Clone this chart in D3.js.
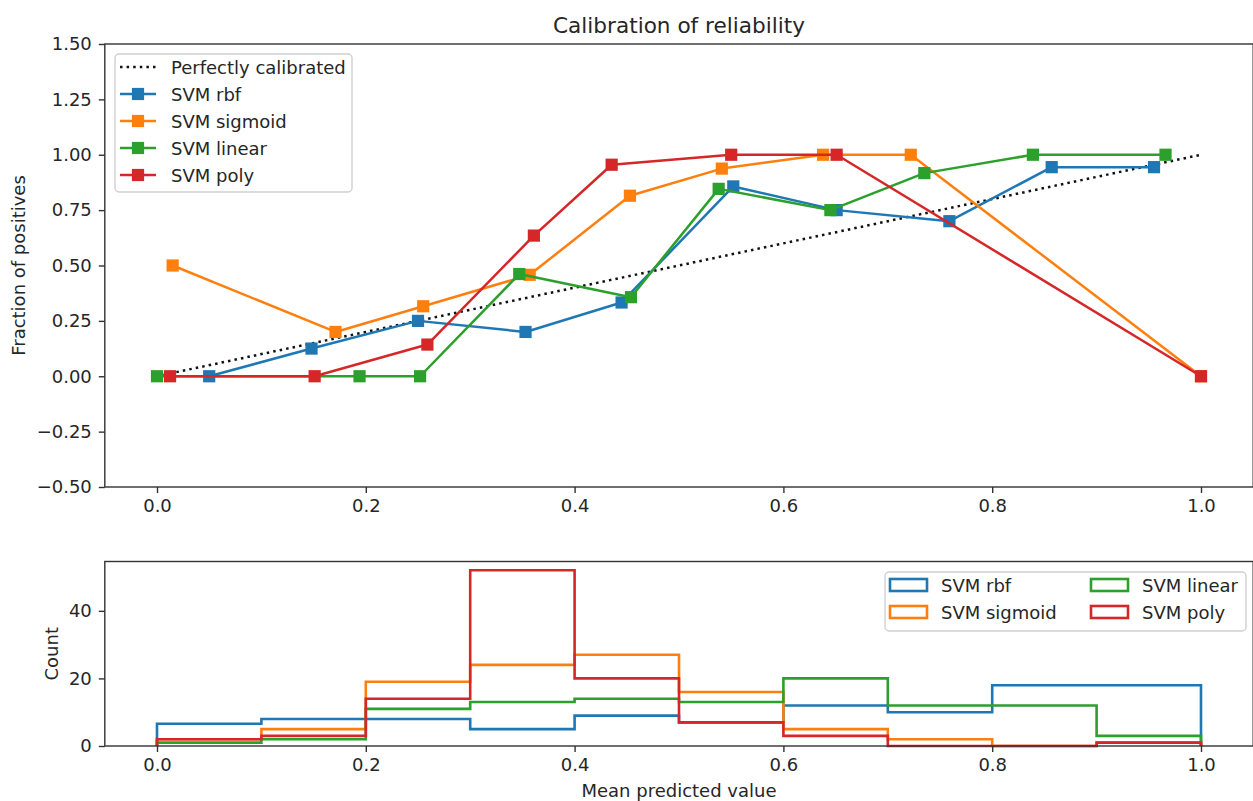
<!DOCTYPE html>
<html>
<head>
<meta charset="utf-8">
<script src="https://cdn.jsdelivr.net/npm/d3@7"></script>
<style>
  html, body { margin: 0; padding: 0; background: #fff; }
  svg { display: block; font-family: "DejaVu Sans", sans-serif; }
</style>
</head>
<body>
<svg id="chart" width="1253" height="801"></svg>
<script>
// ---------------- DATA ----------------
const seriesNames = ["SVM rbf", "SVM sigmoid", "SVM linear", "SVM poly"];
const seriesColors = ["#1f77b4", "#ff7f0e", "#2ca02c", "#d62728"];

// calibration curves: mean predicted value (x) and fraction of positives (y)
const rbfX = [0.05, 0.148, 0.25, 0.353, 0.445, 0.552, 0.651, 0.759, 0.857, 0.955];
const rbfY = [0.0, 0.125, 0.25, 0.2, 0.333, 0.857, 0.75, 0.70, 0.944, 0.944];
const sigmoidX = [0.015, 0.171, 0.255, 0.357, 0.453, 0.541, 0.638, 0.722, 1.0];
const sigmoidY = [0.5, 0.2, 0.316, 0.458, 0.815, 0.9375, 1.0, 1.0, 0.0];
const linearX = [0.0, 0.194, 0.252, 0.347, 0.454, 0.538, 0.645, 0.735, 0.839, 0.966];
const linearY = [0.0, 0.0, 0.0, 0.4615, 0.357, 0.846, 0.75, 0.917, 1.0, 1.0];
const polyX = [0.0125, 0.151, 0.259, 0.361, 0.4355, 0.55, 0.651, 1.0];
const polyY = [0.0, 0.0, 0.143, 0.635, 0.955, 1.0, 1.0, 0.0];

// histogram of predicted values (10 bins from 0 to 1)
const binEdges = [0.0, 0.1, 0.2, 0.3, 0.4, 0.5, 0.6, 0.7, 0.8, 0.9, 1.0];
const rbfCounts = [6.6, 8, 8, 5, 9, 7, 12, 10, 18, 18];
const sigmoidCounts = [2, 5, 19, 24, 27, 16, 5, 2, 0, 1];
const linearCounts = [1, 2, 11, 13, 14, 13, 20, 12, 12, 3];
const polyCounts = [2, 3, 14, 52, 20, 7, 3, 0, 0, 1];

const xTicks = [0.0, 0.2, 0.4, 0.6, 0.8, 1.0];
const yTicksTop = [-0.5, -0.25, 0.0, 0.25, 0.5, 0.75, 1.0, 1.25, 1.5];
const yTicksBottom = [0, 20, 40];

const titleText = "Calibration of reliability";
const topYLabel = "Fraction of positives";
const bottomYLabel = "Count";
const bottomXLabel = "Mean predicted value";
const perfectLabel = "Perfectly calibrated";

// ---------------- DRAWING ----------------
const svg = d3.select("#chart");
const textColor = "#262626";
const spineColor = "#333";
const FONT = 18;

const x = d3.scaleLinear().domain([-0.05, 1.05]).range([104.8, 1253.2]);
const yTop = d3.scaleLinear().domain([-0.5, 1.5]).range([487, 44]);
const yBot = d3.scaleLinear().domain([0, 54.6]).range([746, 561.5]);

function frame(g, yScale) {
  const [x0, x1] = x.range();
  const [y0, y1] = yScale.range();
  g.append("rect")
    .attr("x", x0).attr("y", y1)
    .attr("width", x1 - x0).attr("height", y0 - y1)
    .attr("fill", "none").attr("stroke", spineColor).attr("stroke-width", 1.4);
}

function axes(g, yScale, yTicks, yFmt) {
  const xa = g.append("g").attr("transform", `translate(0,${yScale.range()[0]})`)
    .call(d3.axisBottom(x).tickValues(xTicks).tickFormat(d3.format(".1f")).tickSize(6).tickPadding(6));
  const ya = g.append("g").attr("transform", `translate(${x.range()[0]},0)`)
    .call(d3.axisLeft(yScale).tickValues(yTicks).tickFormat(yFmt).tickSize(6).tickPadding(7));
  [xa, ya].forEach(a => {
    a.select(".domain").remove();
    a.selectAll(".tick line").attr("stroke", spineColor).attr("stroke-width", 1.4);
    a.selectAll(".tick text").attr("fill", textColor).style("font-size", FONT + "px")
      .style("font-family", "DejaVu Sans");
  });
}

// ---- top panel ----
const topG = svg.append("g");
const curves = [
  { name: seriesNames[0], color: seriesColors[0], xs: rbfX, ys: rbfY },
  { name: seriesNames[1], color: seriesColors[1], xs: sigmoidX, ys: sigmoidY },
  { name: seriesNames[2], color: seriesColors[2], xs: linearX, ys: linearY },
  { name: seriesNames[3], color: seriesColors[3], xs: polyX, ys: polyY }
];

const line = d3.line().x(d => x(d[0])).y(d => yTop(d[1]));

// perfectly calibrated
topG.append("path")
  .attr("d", line([[0, 0], [1, 1]]))
  .attr("fill", "none").attr("stroke", "#111").attr("stroke-width", 2.5)
  .attr("stroke-dasharray", "2.5,4.1");

const MS = 10.5;
curves.forEach(c => {
  const pts = c.xs.map((v, i) => [v, c.ys[i]]);
  topG.append("path").attr("d", line(pts))
    .attr("fill", "none").attr("stroke", c.color).attr("stroke-width", 2.5)
    .attr("stroke-linejoin", "round");
  topG.selectAll(null).data(pts).enter().append("rect")
    .attr("x", d => x(d[0]) - MS / 2).attr("y", d => yTop(d[1]) - MS / 2)
    .attr("width", MS).attr("height", MS)
    .attr("fill", c.color).attr("stroke", c.color).attr("stroke-width", 1.7);
});

frame(topG, yTop);
axes(topG, yTop, yTicksTop, d3.format(".2f"));

// title
svg.append("text").attr("x", (x.range()[0] + x.range()[1]) / 2).attr("y", 33)
  .attr("text-anchor", "middle").attr("fill", textColor)
  .style("font-size", "21.6px").text(titleText);

// y label top
svg.append("text")
  .attr("transform", `translate(25,${(yTop.range()[0] + yTop.range()[1]) / 2}) rotate(-90)`)
  .attr("text-anchor", "middle").attr("fill", textColor)
  .style("font-size", FONT + "px").text(topYLabel);

// top legend
const lg = svg.append("g");
lg.append("rect").attr("x", 115).attr("y", 54).attr("width", 237).attr("height", 138)
  .attr("rx", 4).attr("fill", "rgba(255,255,255,0.8)").attr("stroke", "#d0d0d0").attr("stroke-width", 1.4);
const legendItems = [{ name: perfectLabel, color: "#111", dotted: true }].concat(curves);
legendItems.forEach((it, i) => {
  const yy = 67 + i * 27;
  lg.append("line").attr("x1", 120).attr("x2", 156).attr("y1", yy).attr("y2", yy)
    .attr("stroke", it.color).attr("stroke-width", 2.5)
    .attr("stroke-dasharray", it.dotted ? "2.5,4.1" : null);
  if (!it.dotted) {
    lg.append("rect").attr("x", 138 - MS / 2).attr("y", yy - MS / 2).attr("width", MS).attr("height", MS)
      .attr("fill", it.color).attr("stroke", it.color).attr("stroke-width", 1.7);
  }
  lg.append("text").attr("x", 171).attr("y", yy + 6.5).attr("fill", textColor)
    .style("font-size", FONT + "px").text(it.name);
});

// ---- bottom panel ----
const botG = svg.append("g");
const hists = [rbfCounts, sigmoidCounts, linearCounts, polyCounts];
hists.forEach((counts, si) => {
  const pts = [[binEdges[0], 0]];
  counts.forEach((c, i) => { pts.push([binEdges[i], c]); pts.push([binEdges[i + 1], c]); });
  pts.push([binEdges[binEdges.length - 1], 0]);
  botG.append("path")
    .attr("d", d3.line().x(d => x(d[0])).y(d => yBot(d[1]))(pts))
    .attr("fill", "none").attr("stroke", seriesColors[si]).attr("stroke-width", 2.6)
    .attr("stroke-linejoin", "miter");
});
frame(botG, yBot);
axes(botG, yBot, yTicksBottom, d3.format("d"));

svg.append("text")
  .attr("transform", `translate(58,${(yBot.range()[0] + yBot.range()[1]) / 2}) rotate(-90)`)
  .attr("text-anchor", "middle").attr("fill", textColor)
  .style("font-size", FONT + "px").text(bottomYLabel);

svg.append("text").attr("x", (x.range()[0] + x.range()[1]) / 2).attr("y", 797)
  .attr("text-anchor", "middle").attr("fill", textColor)
  .style("font-size", FONT + "px").text(bottomXLabel);

// bottom legend (2 columns)
const bl = svg.append("g");
bl.append("rect").attr("x", 885).attr("y", 572).attr("width", 361).attr("height", 59)
  .attr("rx", 4).attr("fill", "rgba(255,255,255,0.8)").attr("stroke", "#d0d0d0").attr("stroke-width", 1.4);
seriesNames.forEach((name, i) => {
  const col = Math.floor(i / 2), row = i % 2;
  const hx = col === 0 ? 890 : 1091;
  const yy = 585 + row * 27;
  bl.append("rect").attr("x", hx).attr("y", yy - 6).attr("width", 37).attr("height", 12)
    .attr("fill", "none").attr("stroke", seriesColors[i]).attr("stroke-width", 2.6);
  bl.append("text").attr("x", hx + 51).attr("y", yy + 6.5).attr("fill", textColor)
    .style("font-size", FONT + "px").text(name);
});
</script>
</body>
</html>
